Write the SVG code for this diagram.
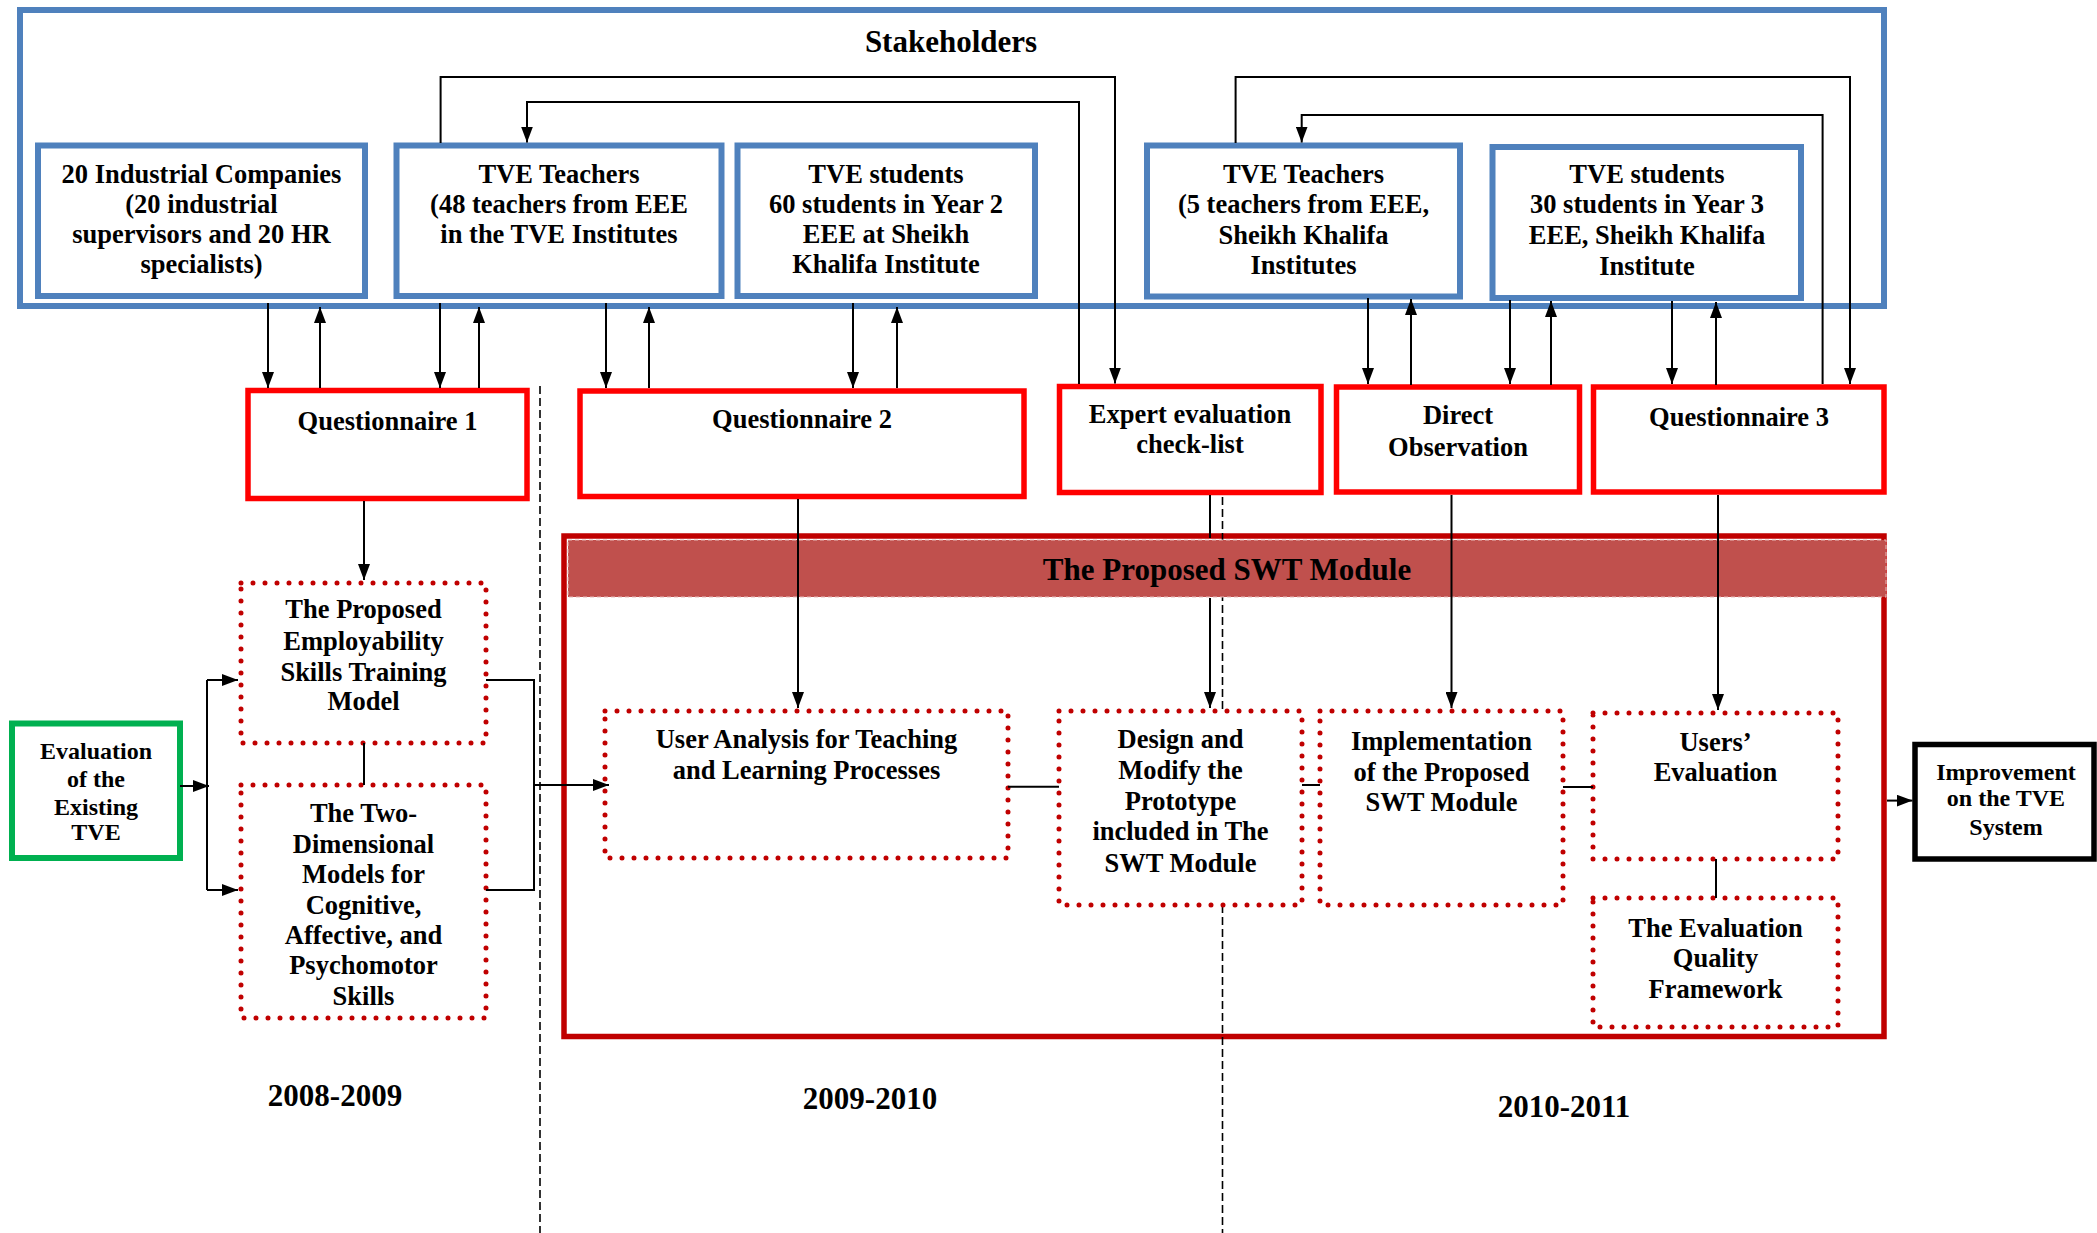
<svg xmlns="http://www.w3.org/2000/svg" width="2097" height="1233" viewBox="0 0 2097 1233">
  <style>
    .t { font-family: "Liberation Serif", "Times New Roman", serif; font-weight: bold; text-anchor: middle; fill: #000; }
    .f26 { font-size: 26.5px; }
    .f24 { font-size: 24px; }
    .f31 { font-size: 31px; }
    .blue { fill: #fff; stroke: #4F81BD; stroke-width: 6; }
    .red { fill: #fff; stroke: #FF0000; stroke-width: 5.5; }
    .dot { fill: #fff; stroke: #C00000; stroke-width: 5; stroke-dasharray: 0 12; stroke-linecap: round; }
    .conn { fill: none; stroke: #000; stroke-width: 2; }
    .sep { fill: none; stroke: #000; stroke-width: 1.6; stroke-dasharray: 8 4; }
  </style>
  <defs>
    <marker id="arrow" viewBox="0 0 16 12" markerWidth="16" markerHeight="12" refX="16" refY="6" orient="auto" markerUnits="userSpaceOnUse">
      <path d="M0,0 L16,6 L0,12 z" fill="#000"/>
    </marker>
  </defs>

  <rect x="0" y="0" width="2097" height="1233" fill="#fff"/>

  <!-- Stakeholders frame -->
  <g id="stakeholders">
    <rect x="20" y="10" width="1864" height="296" fill="#fff" stroke="#4F81BD" stroke-width="6"/>
    <text class="t f31" x="951" y="52">Stakeholders</text>
  </g>

  <g id="industrial-companies">
    <rect class="blue" x="38" y="145.5" width="327" height="150.5"/>
    <text class="t f26" x="201.5" y="182.7">20 Industrial Companies</text>
    <text class="t f26" x="201.5" y="212.7">(20 industrial</text>
    <text class="t f26" x="201.5" y="242.7">supervisors and 20 HR</text>
    <text class="t f26" x="201.5" y="272.7">specialists)</text>
  </g>

  <g id="teachers-48">
    <rect class="blue" x="396.5" y="145.5" width="325" height="150.5"/>
    <text class="t f26" x="559" y="182.7">TVE Teachers</text>
    <text class="t f26" x="559" y="212.7">(48 teachers from EEE</text>
    <text class="t f26" x="559" y="242.7">in the TVE Institutes</text>
  </g>

  <g id="students-60">
    <rect class="blue" x="737.5" y="145.5" width="297.5" height="150.5"/>
    <text class="t f26" x="886" y="182.7">TVE students</text>
    <text class="t f26" x="886" y="212.7">60 students in Year 2</text>
    <text class="t f26" x="886" y="243">EEE at Sheikh</text>
    <text class="t f26" x="886" y="273">Khalifa Institute</text>
  </g>

  <g id="teachers-5">
    <rect class="blue" x="1147" y="145.5" width="313" height="151"/>
    <text class="t f26" x="1303.5" y="183">TVE Teachers</text>
    <text class="t f26" x="1303.5" y="213">(5 teachers from EEE,</text>
    <text class="t f26" x="1303.5" y="243.5">Sheikh Khalifa</text>
    <text class="t f26" x="1303.5" y="274">Institutes</text>
  </g>

  <g id="students-30">
    <rect class="blue" x="1492.5" y="147" width="308.5" height="151"/>
    <text class="t f26" x="1647" y="183.3">TVE students</text>
    <text class="t f26" x="1647" y="213.3">30 students in Year 3</text>
    <text class="t f26" x="1647" y="244">EEE, Sheikh Khalifa</text>
    <text class="t f26" x="1647" y="275">Institute</text>
  </g>

  <!-- Data collection instruments -->
  <g id="questionnaire-1">
    <rect class="red" x="248" y="390.5" width="279" height="108"/>
    <text class="t f26" x="387.5" y="430">Questionnaire 1</text>
  </g>

  <g id="questionnaire-2">
    <rect class="red" x="580" y="391" width="444" height="105.5"/>
    <text class="t f26" x="802" y="428">Questionnaire 2</text>
  </g>

  <g id="expert-checklist">
    <rect class="red" x="1059.5" y="386.5" width="261.5" height="106"/>
    <text class="t f26" x="1190" y="422.7">Expert evaluation</text>
    <text class="t f26" x="1190" y="453">check-list</text>
  </g>

  <g id="direct-observation">
    <rect class="red" x="1336.5" y="387" width="243" height="105"/>
    <text class="t f26" x="1458" y="424">Direct</text>
    <text class="t f26" x="1458" y="456">Observation</text>
  </g>

  <g id="questionnaire-3">
    <rect class="red" x="1593.5" y="387" width="290.5" height="105"/>
    <text class="t f26" x="1739" y="426">Questionnaire 3</text>
  </g>

  <!-- Module frame -->
  <g id="swt-module">
    <rect x="564" y="536" width="1320" height="500.5" fill="none" stroke="#C00000" stroke-width="5.5"/>
  </g>

  <!-- Year separators -->
  <g id="timeline">
    <path class="sep" d="M540,386 V1233"/>
    <path class="sep" d="M1222.5,497 V1233"/>
    <text class="t f31" x="335" y="1106">2008-2009</text>
    <text class="t f31" x="870" y="1108.5">2009-2010</text>
    <text class="t f31" x="1564" y="1117">2010-2011</text>
  </g>

  <g id="swt-header">
    <rect x="568" y="540" width="1318" height="57" fill="#C0504D" stroke="#E6B9B8" stroke-width="1" stroke-dasharray="4 3"/>
    <text class="t f31" x="1227" y="580">The Proposed SWT Module</text>
  </g>

  <g id="evaluation-existing">
    <rect x="12" y="723.5" width="168" height="134.5" fill="#fff" stroke="#00B050" stroke-width="6"/>
    <text class="t f24" x="96" y="758.5">Evaluation</text>
    <text class="t f24" x="96" y="786.7">of the</text>
    <text class="t f24" x="96" y="814.6">Existing</text>
    <text class="t f24" x="96" y="840">TVE</text>
  </g>

  <g id="employability-model">
    <rect class="dot" x="241" y="583" width="245" height="160"/>
    <text class="t f26" x="363.5" y="618.3">The Proposed</text>
    <text class="t f26" x="363.5" y="650">Employability</text>
    <text class="t f26" x="363.5" y="680.7">Skills Training</text>
    <text class="t f26" x="363.5" y="710">Model</text>
  </g>

  <g id="two-dimensional-models">
    <rect class="dot" x="241" y="785" width="245" height="233"/>
    <text class="t f26" x="363.5" y="822">The Two-</text>
    <text class="t f26" x="363.5" y="853">Dimensional</text>
    <text class="t f26" x="363.5" y="883">Models for</text>
    <text class="t f26" x="363.5" y="913.6">Cognitive,</text>
    <text class="t f26" x="363.5" y="944">Affective, and</text>
    <text class="t f26" x="363.5" y="974">Psychomotor</text>
    <text class="t f26" x="363.5" y="1005">Skills</text>
  </g>

  <g id="user-analysis">
    <rect class="dot" x="605" y="711" width="403" height="147"/>
    <text class="t f26" x="806.5" y="748.3">User Analysis for Teaching</text>
    <text class="t f26" x="806.5" y="779">and Learning Processes</text>
  </g>

  <g id="design-prototype">
    <rect class="dot" x="1059" y="711" width="243" height="194"/>
    <text class="t f26" x="1180.5" y="748">Design and</text>
    <text class="t f26" x="1180.5" y="779">Modify the</text>
    <text class="t f26" x="1180.5" y="810">Prototype</text>
    <text class="t f26" x="1180.5" y="840">included in The</text>
    <text class="t f26" x="1180.5" y="871.7">SWT Module</text>
  </g>

  <g id="implementation">
    <rect class="dot" x="1320" y="711" width="243" height="194"/>
    <text class="t f26" x="1441.5" y="749.7">Implementation</text>
    <text class="t f26" x="1441.5" y="780.5">of the Proposed</text>
    <text class="t f26" x="1441.5" y="811">SWT Module</text>
  </g>

  <g id="users-evaluation">
    <rect class="dot" x="1593" y="713" width="245" height="146"/>
    <text class="t f26" x="1715.5" y="750.6">Users’</text>
    <text class="t f26" x="1715.5" y="781">Evaluation</text>
  </g>

  <g id="evaluation-quality-framework">
    <rect class="dot" x="1593" y="898" width="245" height="129"/>
    <text class="t f26" x="1715.5" y="936.8">The Evaluation</text>
    <text class="t f26" x="1715.5" y="967">Quality</text>
    <text class="t f26" x="1715.5" y="998.4">Framework</text>
  </g>

  <g id="improvement">
    <rect x="1915" y="744.5" width="179" height="114.5" fill="#fff" stroke="#000" stroke-width="5.5"/>
    <text class="t f24" x="2006" y="779.6">Improvement</text>
    <text class="t f24" x="2006" y="806.4">on the TVE</text>
    <text class="t f24" x="2006" y="835.4">System</text>
  </g>

  <!-- Connectors -->
  <g id="connectors">
    <!-- stakeholders <-> instruments -->
    <path class="conn" d="M268,303 V388" marker-end="url(#arrow)"/>
    <path class="conn" d="M320,388 V307" marker-end="url(#arrow)"/>
    <path class="conn" d="M440,303 V388" marker-end="url(#arrow)"/>
    <path class="conn" d="M479,388 V307" marker-end="url(#arrow)"/>
    <path class="conn" d="M606,303 V388" marker-end="url(#arrow)"/>
    <path class="conn" d="M649,388 V307" marker-end="url(#arrow)"/>
    <path class="conn" d="M853,303 V388" marker-end="url(#arrow)"/>
    <path class="conn" d="M897,388 V307" marker-end="url(#arrow)"/>
    <path class="conn" d="M1368,298 V384" marker-end="url(#arrow)"/>
    <path class="conn" d="M1411,385 V299" marker-end="url(#arrow)"/>
    <path class="conn" d="M1510,300 V384" marker-end="url(#arrow)"/>
    <path class="conn" d="M1551,385 V301" marker-end="url(#arrow)"/>
    <path class="conn" d="M1672,301 V384" marker-end="url(#arrow)"/>
    <path class="conn" d="M1716,385 V302" marker-end="url(#arrow)"/>

    <!-- loops over the stakeholder boxes -->
    <path class="conn" d="M440.6,143 V77 H1115 V383.5" marker-end="url(#arrow)"/>
    <path class="conn" d="M1079,384 V102 H527 V142.5" marker-end="url(#arrow)"/>
    <path class="conn" d="M1235.6,143 V77 H1850 V384" marker-end="url(#arrow)"/>
    <path class="conn" d="M1822.6,384 V115 H1301.7 V142.5" marker-end="url(#arrow)"/>

    <!-- instruments -> stages (the check-list line passes under the header band) -->
    <path class="conn" d="M364,501 V580" marker-end="url(#arrow)"/>
    <path class="conn" d="M798,499 V708" marker-end="url(#arrow)"/>
    <path class="conn" d="M1210,495 V538 M1210,598 V708" marker-end="url(#arrow)"/>
    <path class="conn" d="M1451.5,495 V708" marker-end="url(#arrow)"/>
    <path class="conn" d="M1718,495 V710" marker-end="url(#arrow)"/>

    <!-- evaluation of existing TVE -> models -->
    <path class="conn" d="M180,786 H209" stroke-width="3" marker-end="url(#arrow)"/>
    <path class="conn" d="M207,680 V890"/>
    <path class="conn" d="M207,680 H238" stroke-width="2.5" marker-end="url(#arrow)"/>
    <path class="conn" d="M207,890 H238" stroke-width="2.5" marker-end="url(#arrow)"/>
    <path class="conn" d="M364,743 V785"/>

    <!-- models -> user analysis -->
    <path class="conn" d="M486,680 H534 V890 H486"/>
    <path class="conn" d="M534,785 H609" stroke-width="2.5" marker-end="url(#arrow)"/>

    <!-- stage chain -->
    <path class="conn" d="M1008,786.7 H1059"/>
    <path class="conn" d="M1302,785 H1320"/>
    <path class="conn" d="M1563,787 H1593"/>
    <path class="conn" d="M1716,859 V898"/>

    <!-- module -> improvement -->
    <path class="conn" d="M1887,800.6 H1912.5" stroke-width="3" marker-end="url(#arrow)"/>
  </g>
</svg>
